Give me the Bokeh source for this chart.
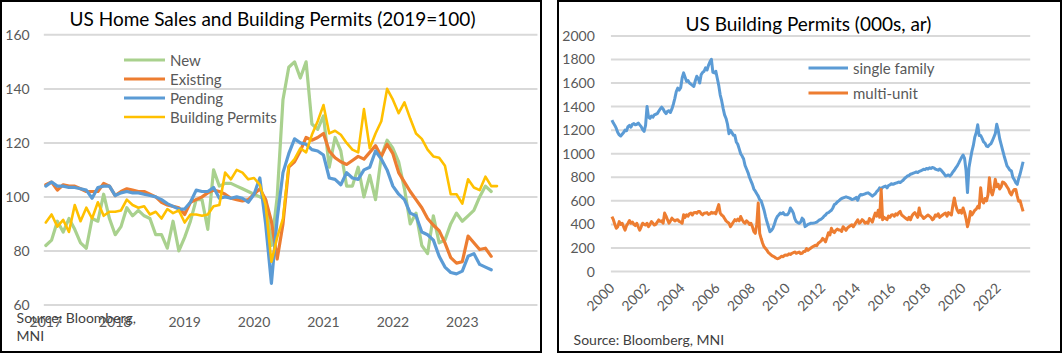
import math
from bokeh.plotting import figure
from bokeh.models import Label, Legend, LegendItem, FixedTicker, Range1d
from bokeh.core.properties import value
from bokeh.layouts import row
from bokeh.embed import file_html
from bokeh.resources import INLINE

# ---------------- Left chart data (monthly, Jan 2017 onward, 2019=100) ----------------
left_start_year = 2017
left_year_ticks = [2017, 2018, 2019, 2020, 2021, 2022, 2023]
left_y_ticks = [60, 80, 100, 120, 140, 160]

new_sales = [82, 84, 91, 87, 92, 88, 83, 81, 92, 91, 101, 92,
             86, 89, 96, 93, 95, 93, 92, 86, 86, 81, 91, 80,
             85, 91, 99, 99, 88, 110, 104, 105, 105, 104, 103, 102,
             101, 100, 99, 82, 100, 136, 148, 150, 144, 150, 127, 125,
             130, 111, 122, 117, 104, 104, 111, 100, 108, 99, 115, 121,
             118, 113, 103, 90, 94, 82, 79, 93, 83, 84, 90, 94,
             91, 93, 95, 100, 104, 102]

existing_sales = [104.5, 105.5, 102.5, 104.5, 104, 104, 103, 102, 102, 102, 105, 104,
                  100.5, 102, 103, 102.5, 102, 102, 101, 100, 98, 97, 96.5, 96,
                  93.5, 98, 99, 100, 101.5, 102.5, 102, 101, 99.5, 99, 98.5, 99,
                  101, 103, 99, 91, 77, 90, 111, 113, 117, 122, 121, 122,
                  123.5, 117, 114.5, 113, 112, 113.5, 115, 114, 116.5, 119, 115, 119.5,
                  116, 109, 105.5, 102, 99, 96, 92, 89.5, 87.5, 83, 77.5, 75.5,
                  76, 85.5, 83, 80.5, 81, 78]

pending_sales = [104, 105.5, 104, 104, 103.5, 103.5, 103, 102.5, 99.5, 103.5, 104, 104,
                 100.5, 101.5, 102, 101.5, 101.5, 101, 100.5, 100, 99, 97.5, 96.5, 95.5,
                 95.5, 98, 102.5, 102, 102, 103.5, 99.5, 100, 99.5, 100, 99.5, 98,
                 101, 107, 90, 68, 92, 109, 116, 121.5, 120, 119.5, 117.5, 117,
                 115.5, 107, 106.5, 104.5, 109, 107, 106.5, 110, 111, 117, 114, 110,
                 104, 101, 99, 94, 93, 87, 86, 84, 78, 74, 72, 71.5,
                 72.5, 78, 79, 75, 74, 73]

building_permits = [90.5, 93.5, 89, 91.5, 87, 97, 91, 96, 92, 98, 93, 94.5,
                    94.5, 95, 99, 97, 96, 96.5, 93.5, 94.5, 92, 95.5, 94, 95,
                    90.5, 93.5, 93.5, 93, 93.5, 96.5, 97, 109, 106.5, 110, 109, 106.5,
                    107, 104.5, 97, 76, 85, 92, 111.5, 114, 118, 116.5, 123, 128,
                    134, 123.5, 124.5, 123, 120, 117.5, 116.5, 132.5, 118, 123.5, 128, 140,
                    136, 131, 135, 129, 123.5, 121.5, 117.5, 115, 114.5, 111.5, 101, 101,
                    97.5, 106.5, 103.5, 102.5, 107.5, 104, 104]

# ---------------- Right chart data (monthly, Jan 2000 onward, 000s ar) ----------------
right_start_year = 2000
right_year_ticks = list(range(2000, 2023, 2))
right_y_ticks = list(range(0, 2001, 200))

single_family = [
    1285, 1260, 1240, 1215, 1180, 1160, 1150, 1165, 1180, 1200, 1195, 1230,
    1240, 1225, 1250, 1256, 1245, 1250, 1260, 1245, 1230, 1205, 1190, 1240,
    1400, 1310, 1300, 1320, 1310, 1330, 1335, 1340, 1360, 1380, 1395, 1380,
    1356, 1340, 1360, 1365, 1350, 1380, 1420, 1470, 1528, 1557, 1540, 1560,
    1643, 1686, 1650, 1614, 1620, 1600, 1590, 1580, 1571, 1620, 1657, 1640,
    1600, 1672, 1690, 1700, 1729, 1710, 1750, 1780, 1801, 1690, 1686, 1700,
    1640, 1580, 1500, 1450, 1385, 1330, 1299, 1250, 1170, 1199, 1180, 1156,
    1156, 1100, 1080, 1041, 1000, 980, 955, 900, 870, 840, 800, 770,
    740, 700, 682, 660, 640, 611, 600, 560, 520, 467, 420, 380,
    338, 350, 367, 400, 440, 467, 480, 496, 490, 500, 482, 482,
    482, 500, 539, 520, 496, 450, 424, 415, 410, 420, 453, 440,
    381, 390, 400, 405, 410, 410, 412, 415, 420, 430, 439, 445,
    455, 470, 480, 496, 500, 510, 520, 540, 568, 575, 590, 600,
    611, 620, 625, 630, 634, 630, 625, 620, 611, 615, 620, 630,
    605, 640, 654, 650, 655, 660, 665, 668, 660, 650, 639, 650,
    660, 680, 690, 711, 700, 715, 720, 725, 710, 730, 735, 745,
    740, 745, 750, 754, 760, 755, 765, 775, 790, 800, 811, 815,
    826, 830, 835, 840, 845, 840, 850, 855, 860, 868, 865, 875,
    870, 880, 875, 883, 880, 870, 865, 860, 870, 860, 845, 830,
    811, 815, 820, 810, 825, 845, 860, 880, 897, 920, 945, 969,
    989, 960, 860, 670, 880, 954, 1020, 1070, 1141, 1180, 1245, 1155,
    1155, 1130, 1100, 1090, 1065, 1060, 1075, 1084, 1110, 1140, 1170, 1250,
    1200, 1127, 1080, 1030, 983, 940, 897, 880, 860, 854, 800, 780,
    754, 740, 790, 830, 880, 932]

multi_unit = [
    467, 440, 400, 367, 381, 424, 400, 410, 380, 352, 390, 410,
    433, 410, 420, 400, 390, 410, 380, 352, 380, 410, 400, 395,
    410, 381, 400, 424, 410, 395, 400, 420, 438, 425, 430, 410,
    496, 470, 440, 410, 430, 453, 440, 430, 438, 440, 425, 420,
    410, 482, 460, 481, 470, 490, 496, 480, 500, 502, 495, 510,
    510, 490, 481, 495, 496, 500, 485, 490, 502, 495, 500, 490,
    530, 568, 496, 480, 470, 450, 430, 420, 410, 381, 400, 420,
    440, 430, 445, 430, 467, 440, 420, 410, 430, 420, 400, 410,
    381, 340, 324, 400, 582, 324, 280, 240, 210, 195, 180, 160,
    150, 138, 130, 125, 115, 109, 112, 120, 130, 125, 138, 140,
    138, 150, 145, 155, 160, 166, 155, 160, 165, 152, 155, 170,
    170, 195, 180, 190, 200, 210, 215, 224, 220, 240, 250, 260,
    281, 270, 252, 290, 330, 310, 367, 340, 330, 350, 360, 353,
    353, 340, 380, 367, 350, 370, 380, 390, 396, 380, 400, 420,
    439, 410, 420, 440, 430, 410, 420, 410, 450, 439, 420, 460,
    496, 470, 520, 460, 697, 439, 460, 450, 440, 470, 460, 480,
    482, 470, 490, 480, 500, 510, 480, 470, 460, 450, 440, 460,
    439, 470, 490, 500, 480, 460, 539, 480, 470, 450, 460, 470,
    480, 470, 460, 439, 450, 480, 470, 490, 460, 470, 480, 490,
    496, 470, 500, 490, 480, 560, 625, 560, 520, 500, 520, 496,
    540, 500, 450, 381, 430, 510, 480, 500, 520, 530, 553, 540,
    711, 600, 582, 620, 600, 650, 797, 682, 650, 700, 783, 720,
    740, 700, 720, 760, 754, 740, 720, 700, 668, 650, 680, 697,
    697, 640, 596, 600, 553, 510]

FONT = "Lato"
GRAY = "#595959"
GRID = "#d9d9d9"
C_GREEN = "#a9d18e"
C_ORANGE = "#ed7d31"
C_BLUE = "#5b9bd5"
C_YELLOW = "#ffc000"


def months_to_x(start_year, n):
    return [start_year + i / 12.0 for i in range(n)]


class PanelMap:
    """Maps window pixel positions of a panel onto its data ranges."""

    def __init__(self, x_at, y_at, canvas_left, canvas_top, canvas_w, canvas_h):
        (self.px0, self.dx0), (self.px1, self.dx1) = x_at
        (self.py0, self.dy0), (self.py1, self.dy1) = y_at
        self.cl, self.ct, self.cw, self.ch = canvas_left, canvas_top, canvas_w, canvas_h

    def x(self, px):
        return self.dx0 + (px - self.px0) * (self.dx1 - self.dx0) / (self.px1 - self.px0)

    def y(self, py):
        return self.dy0 + (py - self.py0) * (self.dy1 - self.dy0) / (self.py1 - self.py0)

    def xr(self):
        return Range1d(self.x(self.cl), self.x(self.cl + self.cw))

    def yr(self):
        return Range1d(self.y(self.ct + self.ch), self.y(self.ct))


def make_panel(m, width, height):
    p = figure(width=width, height=height, x_range=m.xr(), y_range=m.yr(),
               output_backend="svg", toolbar_location=None, title=None,
               min_border=0, min_border_left=0, min_border_right=0,
               min_border_top=0, min_border_bottom=0,
               y_axis_location=None,
               styles={"border": "2px solid black"})
    p.xgrid.visible = False
    p.ygrid.visible = False
    p.outline_line_color = None
    return p


def style_xaxis(p, xticks, x_loc):
    ax = p.xaxis[0]
    ax.axis_line_color = None
    ax.major_tick_line_color = None
    ax.minor_tick_line_color = None
    ax.major_label_text_font = FONT
    ax.major_label_text_font_size = "14px"
    ax.major_label_text_color = GRAY
    ax.ticker = FixedTicker(ticks=xticks)
    ax.fixed_location = x_loc


def y_tick_labels(p, yticks, x_right):
    p.text(x=[x_right] * len(yticks), y=yticks, text=[str(t) for t in yticks],
           text_align="right", text_baseline="middle", text_font=value(FONT),
           text_font_size="14px", text_color=GRAY)


def gridlines(p, yticks, x0, x1):
    p.segment(x0=[x0] * len(yticks), x1=[x1] * len(yticks), y0=yticks, y1=yticks,
              line_color=GRID, line_width=2)


# ---------------- Left panel (outer 0..542 x 0..353) ----------------
LM = PanelMap(x_at=((45, 2017.0), (113.9, 2018.0)), y_at=((34, 160.0), (301, 60.0)),
              canvas_left=2, canvas_top=2, canvas_w=538, canvas_h=349)
p1 = make_panel(LM, 542, 353)
gridlines(p1, left_y_ticks, LM.x(43), LM.x(533))
style_xaxis(p1, left_year_ticks, x_loc=60)
y_tick_labels(p1, left_y_ticks, LM.x(29))
p1.xaxis[0].major_label_standoff = 6

series_left = [("New", new_sales, C_GREEN, 3.2),
               ("Existing", existing_sales, C_ORANGE, 3.2),
               ("Pending", pending_sales, C_BLUE, 3.2),
               ("Building Permits", building_permits, C_YELLOW, 2.6)]
items = []
for name, vals, col, w in series_left:
    r = p1.line(months_to_x(left_start_year, len(vals)), vals, line_color=col,
                line_width=w, line_join="round", line_cap="round")
    items.append(LegendItem(label=name, renderers=[r]))
leg1 = Legend(items=items, location=(122, 229), padding=0, margin=0, spacing=0,
              glyph_width=41, glyph_height=19, label_height=19, label_standoff=5,
              label_text_font=FONT, label_text_font_size="15px", label_text_color=GRAY,
              background_fill_alpha=0, border_line_alpha=0)
p1.add_layout(leg1)

p1.add_layout(Label(x=LM.x(270), y=LM.y(18), text="US Home Sales and Building Permits (2019=100)",
                    text_align="center", text_baseline="middle", text_font=FONT,
                    text_font_size="19px", text_color="#000000"))
p1.add_layout(Label(x=LM.x(16), y=LM.y(313), text="Source: Bloomberg,", text_align="left",
                    text_baseline="middle", text_font=FONT, text_font_size="14px",
                    text_color="#404040"))
p1.add_layout(Label(x=LM.x(16), y=LM.y(331), text="MNI", text_align="left",
                    text_baseline="middle", text_font=FONT, text_font_size="14px",
                    text_color="#404040"))

# ---------------- Right panel (outer 557..1062 x 0..353) ----------------
RM = PanelMap(x_at=((611, 2000.0), (628.42, 2001.0)), y_at=((35, 2000.0), (268, 0.0)),
              canvas_left=559, canvas_top=2, canvas_w=501, canvas_h=349)
p2 = make_panel(RM, 505, 353)
gridlines(p2, right_y_ticks, RM.x(610), RM.x(1026))
style_xaxis(p2, right_year_ticks, x_loc=0)
y_tick_labels(p2, right_y_ticks, RM.x(594))
p2.xaxis[0].major_label_standoff = 8
p2.xaxis[0].major_label_orientation = math.pi / 4

r_sf = p2.line(months_to_x(right_start_year, len(single_family)), single_family,
               line_color=C_BLUE, line_width=3, line_join="round")
r_mu = p2.line(months_to_x(right_start_year, len(multi_unit)), multi_unit,
               line_color=C_ORANGE, line_width=3, line_join="round")
leg2 = Legend(items=[LegendItem(label="single family", renderers=[r_sf]),
                     LegendItem(label="multi-unit", renderers=[r_mu])],
              location=(249, 250), padding=0, margin=0, spacing=0,
              glyph_width=40, glyph_height=25, label_height=25, label_standoff=5,
              label_text_font=FONT, label_text_font_size="15px", label_text_color=GRAY,
              background_fill_alpha=0, border_line_alpha=0)
p2.add_layout(leg2)

p2.add_layout(Label(x=RM.x(806), y=RM.y(23), text="US Building Permits (000s, ar)",
                    text_align="center", text_baseline="middle", text_font=FONT,
                    text_font_size="19px", text_color="#000000"))
p2.add_layout(Label(x=RM.x(573), y=RM.y(335), text="Source: Bloomberg, MNI", text_align="left",
                    text_baseline="middle", text_font=FONT, text_font_size="14px",
                    text_color="#404040"))

layout = row(p1, p2, spacing=15)
open("out.html", "w").write(file_html(layout, INLINE))
